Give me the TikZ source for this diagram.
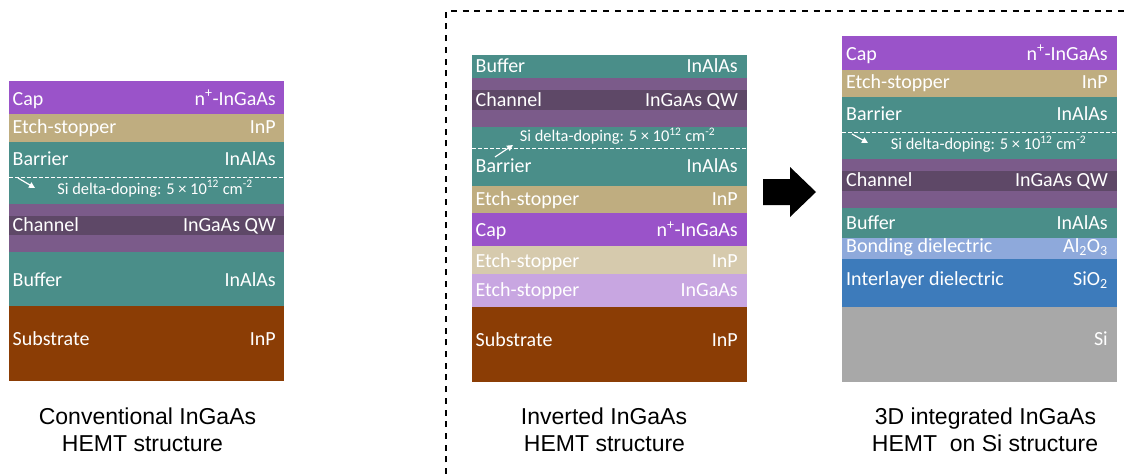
\documentclass[tikz,border=0pt]{standalone}
\usepackage{fontspec}
\setmainfont{Carlito}
\newfontfamily\captionfont{Liberation Sans}
\usetikzlibrary{arrows.meta}

% layer colours
\definecolor{capC}{HTML}{9A53C9}
\definecolor{etchC}{HTML}{BFAD80}
\definecolor{tealC}{HTML}{4A8E89}
\definecolor{spacerC}{HTML}{7B5B8A}
\definecolor{chanC}{HTML}{5E4867}
\definecolor{subC}{HTML}{8B3D05}
\definecolor{etchlightC}{HTML}{D6CAAD}
\definecolor{etchpurpleC}{HTML}{C8A6E1}
\definecolor{bondC}{HTML}{8EA9DB}
\definecolor{ildC}{HTML}{3D7BBB}
\definecolor{siC}{HTML}{A8A8A8}

\begin{document}
\begin{tikzpicture}[x=1pt,y=-1pt,
  lbl/.style={text=white, inner sep=0pt, font=\fontsize{20}{24}\selectfont},
  lleft/.style={lbl, anchor=base west},
  lright/.style={lbl, anchor=base east},
  dopetext/.style={text=white, inner sep=0pt, anchor=base, font=\fontsize{16.4}{20}\selectfont},
  dopeline/.style={white, line width=1pt, dash pattern=on 4pt off 2pt},
  dopearrow/.style={white, line width=1.2pt, -{Triangle[length=6pt,width=6pt]}},
  captiontext/.style={inner sep=0pt, anchor=base, font=\captionfont\fontsize{23}{27}\selectfont},
  frameline/.style={black, line width=1.8pt, dash pattern=on 6pt off 5.7pt}
]
\useasboundingbox (0,0) rectangle (1128,474);

% ---------------- conventional HEMT stack ----------------
\fill[capC]    (9,81)  rectangle (284,114);
\fill[etchC]   (9,114) rectangle (284,142);
\fill[tealC]   (9,142) rectangle (284,204);
\fill[spacerC] (9,204) rectangle (284,216);
\fill[chanC]   (9,216) rectangle (284,235);
\fill[spacerC] (9,235) rectangle (284,252);
\fill[tealC]   (9,252) rectangle (284,306);
\fill[subC]    (9,306) rectangle (284,381);
\draw[dopeline] (9,177) -- (284,177);

\node[lleft]  (a1l) at (12.5,105)   {Cap};
\node[lright] (a1r) at (276,105)    {n\textsuperscript{+}-InGaAs};
\node[lleft]  (a2l) at (12.5,133)   {Etch-stopper};
\node[lright] (a2r) at (276,133)    {InP};
\node[lleft]  (a3l) at (12.5,165)   {Barrier};
\node[lright] (a3r) at (276,165)    {InAlAs};
\node[dopetext] (a3d) at (155,194)  {Si delta-doping: 5 × 10\textsuperscript{12} cm\textsuperscript{-2}};
\node[lleft]  (a4l) at (12.5,231.5) {Channel};
\node[lright] (a4r) at (276,231.5)  {InGaAs QW};
\node[lleft]  (a5l) at (12.5,286)   {Buffer};
\node[lright] (a5r) at (276,286)    {InAlAs};
\node[lleft]  (a6l) at (12.5,345)   {Substrate};
\node[lright] (a6r) at (276,345)    {InP};
\coordinate (a3s) at (18,178);
\coordinate (a3e) at (35,188);
\draw[dopearrow] (a3s) -- (a3e);

\node[captiontext] (acap1) at (147.5,424) {Conventional InGaAs};
\node[captiontext] (acap2) at (142.5,451) {HEMT structure};

% ---------------- inverted HEMT stack ----------------
\fill[tealC]       (472,55)  rectangle (747,78);
\fill[spacerC]     (472,78)  rectangle (747,90);
\fill[chanC]       (472,90)  rectangle (747,110);
\fill[spacerC]     (472,110) rectangle (747,127);
\fill[tealC]       (472,127) rectangle (747,186);
\fill[etchC]       (472,186) rectangle (747,213);
\fill[capC]        (472,213) rectangle (747,246);
\fill[etchlightC]  (472,246) rectangle (747,274);
\fill[etchpurpleC] (472,274) rectangle (747,307);
\fill[subC]        (472,307) rectangle (747,382);
\draw[dopeline] (472,148) -- (747,148);

\node[lleft]  (b1l) at (475.5,72.5)  {Buffer};
\node[lright] (b1r) at (738,72.5)    {InAlAs};
\node[lleft]  (b2l) at (475.5,106)   {Channel};
\node[lright] (b2r) at (738,106)     {InGaAs QW};
\node[dopetext] (b3d) at (617.5,141.7) {Si delta-doping: 5 × 10\textsuperscript{12} cm\textsuperscript{-2}};
\node[lleft]  (b3l) at (475.5,172.7) {Barrier};
\node[lright] (b3r) at (738,172.7)   {InAlAs};
\node[lleft]  (b4l) at (475.5,205.7) {Etch-stopper};
\node[lright] (b4r) at (738,205.7)   {InP};
\node[lleft]  (b5l) at (475.5,236.7) {Cap};
\node[lright] (b5r) at (738,236.7)   {n\textsuperscript{+}-InGaAs};
\node[lleft]  (b6l) at (475.5,267.7) {Etch-stopper};
\node[lright] (b6r) at (738,267.7)   {InP};
\node[lleft]  (b7l) at (475.5,296.7) {Etch-stopper};
\node[lright] (b7r) at (738,296.7)   {InGaAs};
\node[lleft]  (b8l) at (475.5,346.7) {Substrate};
\node[lright] (b8r) at (738,346.7)   {InP};
\coordinate (b3s) at (495,157);
\coordinate (b3e) at (513,145);
\draw[dopearrow] (b3s) -- (b3e);

\node[captiontext] (bcap1) at (604,424) {Inverted InGaAs};
\node[captiontext] (bcap2) at (604.5,451) {HEMT structure};

% ---------------- 3D integrated stack on Si ----------------
\fill[capC]    (842,36)  rectangle (1117,70);
\fill[etchC]   (842,70)  rectangle (1117,97);
\fill[tealC]   (842,97)  rectangle (1117,159);
\fill[spacerC] (842,159) rectangle (1117,171);
\fill[chanC]   (842,171) rectangle (1117,191);
\fill[spacerC] (842,191) rectangle (1117,208);
\fill[tealC]   (842,208) rectangle (1117,238);
\fill[bondC]   (842,238) rectangle (1117,259);
\fill[ildC]    (842,259) rectangle (1117,307);
\fill[siC]     (842,307) rectangle (1117,382);
\draw[dopeline] (842,132) -- (1117,132);

\node[lleft]  (c1l) at (846,60)     {Cap};
\node[lright] (c1r) at (1108,60)    {n\textsuperscript{+}-InGaAs};
\node[lleft]  (c2l) at (846,88)     {Etch-stopper};
\node[lright] (c2r) at (1108,88)    {InP};
\node[lleft]  (c3l) at (846,120)    {Barrier};
\node[lright] (c3r) at (1108,120)   {InAlAs};
\node[dopetext] (c3d) at (988.5,149.3) {Si delta-doping: 5 × 10\textsuperscript{12} cm\textsuperscript{-2}};
\node[lleft]  (c4l) at (846,186)    {Channel};
\node[lright] (c4r) at (1108,186)   {InGaAs QW};
\node[lleft]  (c5l) at (846,229.3)  {Buffer};
\node[lright] (c5r) at (1108,229.3) {InAlAs};
\node[lleft]  (c6l) at (846,252.7)  {Bonding dielectric};
\node[lright] (c6r) at (1108,252.7) {Al\textsubscript{2}O\textsubscript{3}};
\node[lleft]  (c7l) at (846,285)    {Interlayer dielectric};
\node[lright] (c7r) at (1108,285)   {SiO\textsubscript{2}};
\node[lright] (c8r) at (1108,345)   {Si};
\coordinate (c3s) at (852,134);
\coordinate (c3e) at (868,143);
\draw[dopearrow] (c3s) -- (c3e);

\node[captiontext] (ccap1) at (985.5,424) {3D integrated InGaAs};
\node[captiontext] (ccap2) at (985,451)   {HEMT\ \ on Si structure};

% ---------------- process arrow ----------------
\fill[black] (763,179) -- (790,179) -- (790,167) -- (816,192)
  -- (790,217) -- (790,205) -- (763,205) -- cycle;

% ---------------- dashed frame ----------------
\coordinate (fbot) at (446,474);
\coordinate (fcorner) at (446,11);
\coordinate (fright) at (1128,11);
\draw[frameline] (fbot) -- (fcorner) -- (fright);
\end{tikzpicture}
\end{document}
